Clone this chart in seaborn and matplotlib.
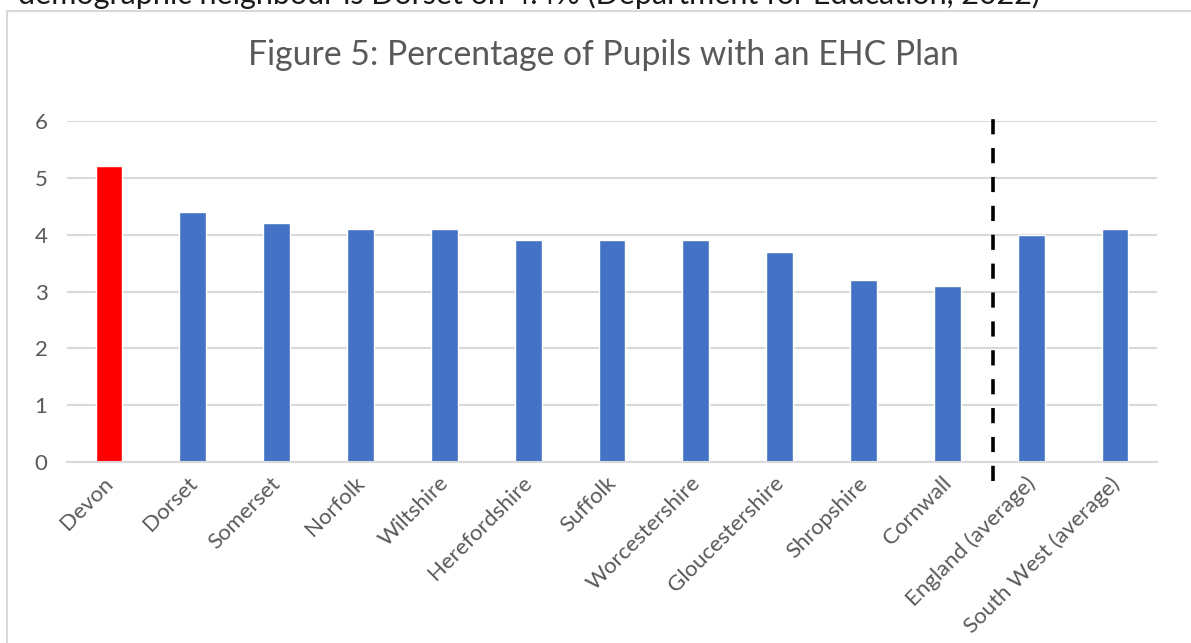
import matplotlib
matplotlib.use("Agg")
import matplotlib.pyplot as plt
import matplotlib.transforms as mtransforms
from matplotlib.patches import Rectangle
import seaborn as sns
import pandas as pd

# Data
areas = ["Devon", "Dorset", "Somerset", "Norfolk", "Wiltshire", "Herefordshire",
         "Suffolk", "Worcestershire", "Gloucestershire", "Shropshire", "Cornwall",
         "England (average)", "South West (average)"]
ehc_pct = [5.2, 4.4, 4.2, 4.1, 4.1, 3.9, 3.9, 3.9, 3.7, 3.2, 3.1, 4.0, 4.1]
yticks = [0, 1, 2, 3, 4, 5, 6]

title = "Figure 5: Percentage of Pupils with an EHC Plan"
lead_in = "demographic neighbour is Dorset on 4.4% (Department for Education, 2022)"

BLUE = "#4472C4"
RED = "#FF0000"
GREY_TXT = "#595959"
GRID = "#D9D9D9"

sns.set_theme(style="white")
plt.rcParams["font.family"] = ["Lato", "DejaVu Sans"]

df = pd.DataFrame({"area": areas, "pct": ehc_pct})
palette = {a: (RED if a == "Devon" else BLUE) for a in areas}

fig = plt.figure(figsize=(11.91, 6.43), dpi=100)
ax = fig.add_axes([67 / 1191, 1 - 462 / 643, (1157 - 67) / 1191, (462 - 121) / 643])

sns.barplot(data=df, x="area", y="pct", hue="area", palette=palette,
            width=0.32, legend=False, ax=ax, saturation=1)

ax.set_ylim(0, 6)
ax.set_xlim(-0.5, len(areas) - 0.5)
ax.set_yticks(yticks)
ax.set_yticklabels([str(t) for t in yticks], fontsize=16, color=GREY_TXT)
ax.yaxis.grid(True, color=GRID, linewidth=1.5)
ax.set_axisbelow(True)
for s in ["top", "right", "left"]:
    ax.spines[s].set_visible(False)
ax.spines["bottom"].set_color(GRID)
ax.spines["bottom"].set_linewidth(1.5)
ax.tick_params(axis="y", length=0, pad=14)
ax.tick_params(axis="x", length=0, pad=8)
ax.set_xlabel("")
ax.set_ylabel("")

ax.set_xticks(range(len(areas)))
ax.set_xticklabels(areas, rotation=45, ha="right", rotation_mode="anchor",
                   fontsize=16, color=GREY_TXT)
shift = mtransforms.ScaledTranslation(-6 / 100, 0, fig.dpi_scale_trans)
for lab in ax.get_xticklabels():
    lab.set_transform(lab.get_transform() + shift)

# Divider between local authorities and the averages
ax.plot([10.54, 10.54], [-0.33, 6.19], color="black", linewidth=2.6,
        linestyle=(0, (4.2, 3.8)), clip_on=False, zorder=5)

fig.text(603 / 1191, 1 - 55 / 643, title, ha="center", va="center",
         fontsize=24.3, color=GREY_TXT)

# Chart frame
fig.patches.append(Rectangle((7 / 1191, -0.2), 1.2, 1.2 - 11 / 643,
                             transform=fig.transFigure, fill=False,
                             edgecolor=GRID, linewidth=1.5))

fig.text(18 / 1191, 1 - 4 / 643, lead_in, ha="left", va="baseline",
         fontsize=22, color="#1a1a1a")

fig.savefig("out.png", dpi=100, facecolor="white")
